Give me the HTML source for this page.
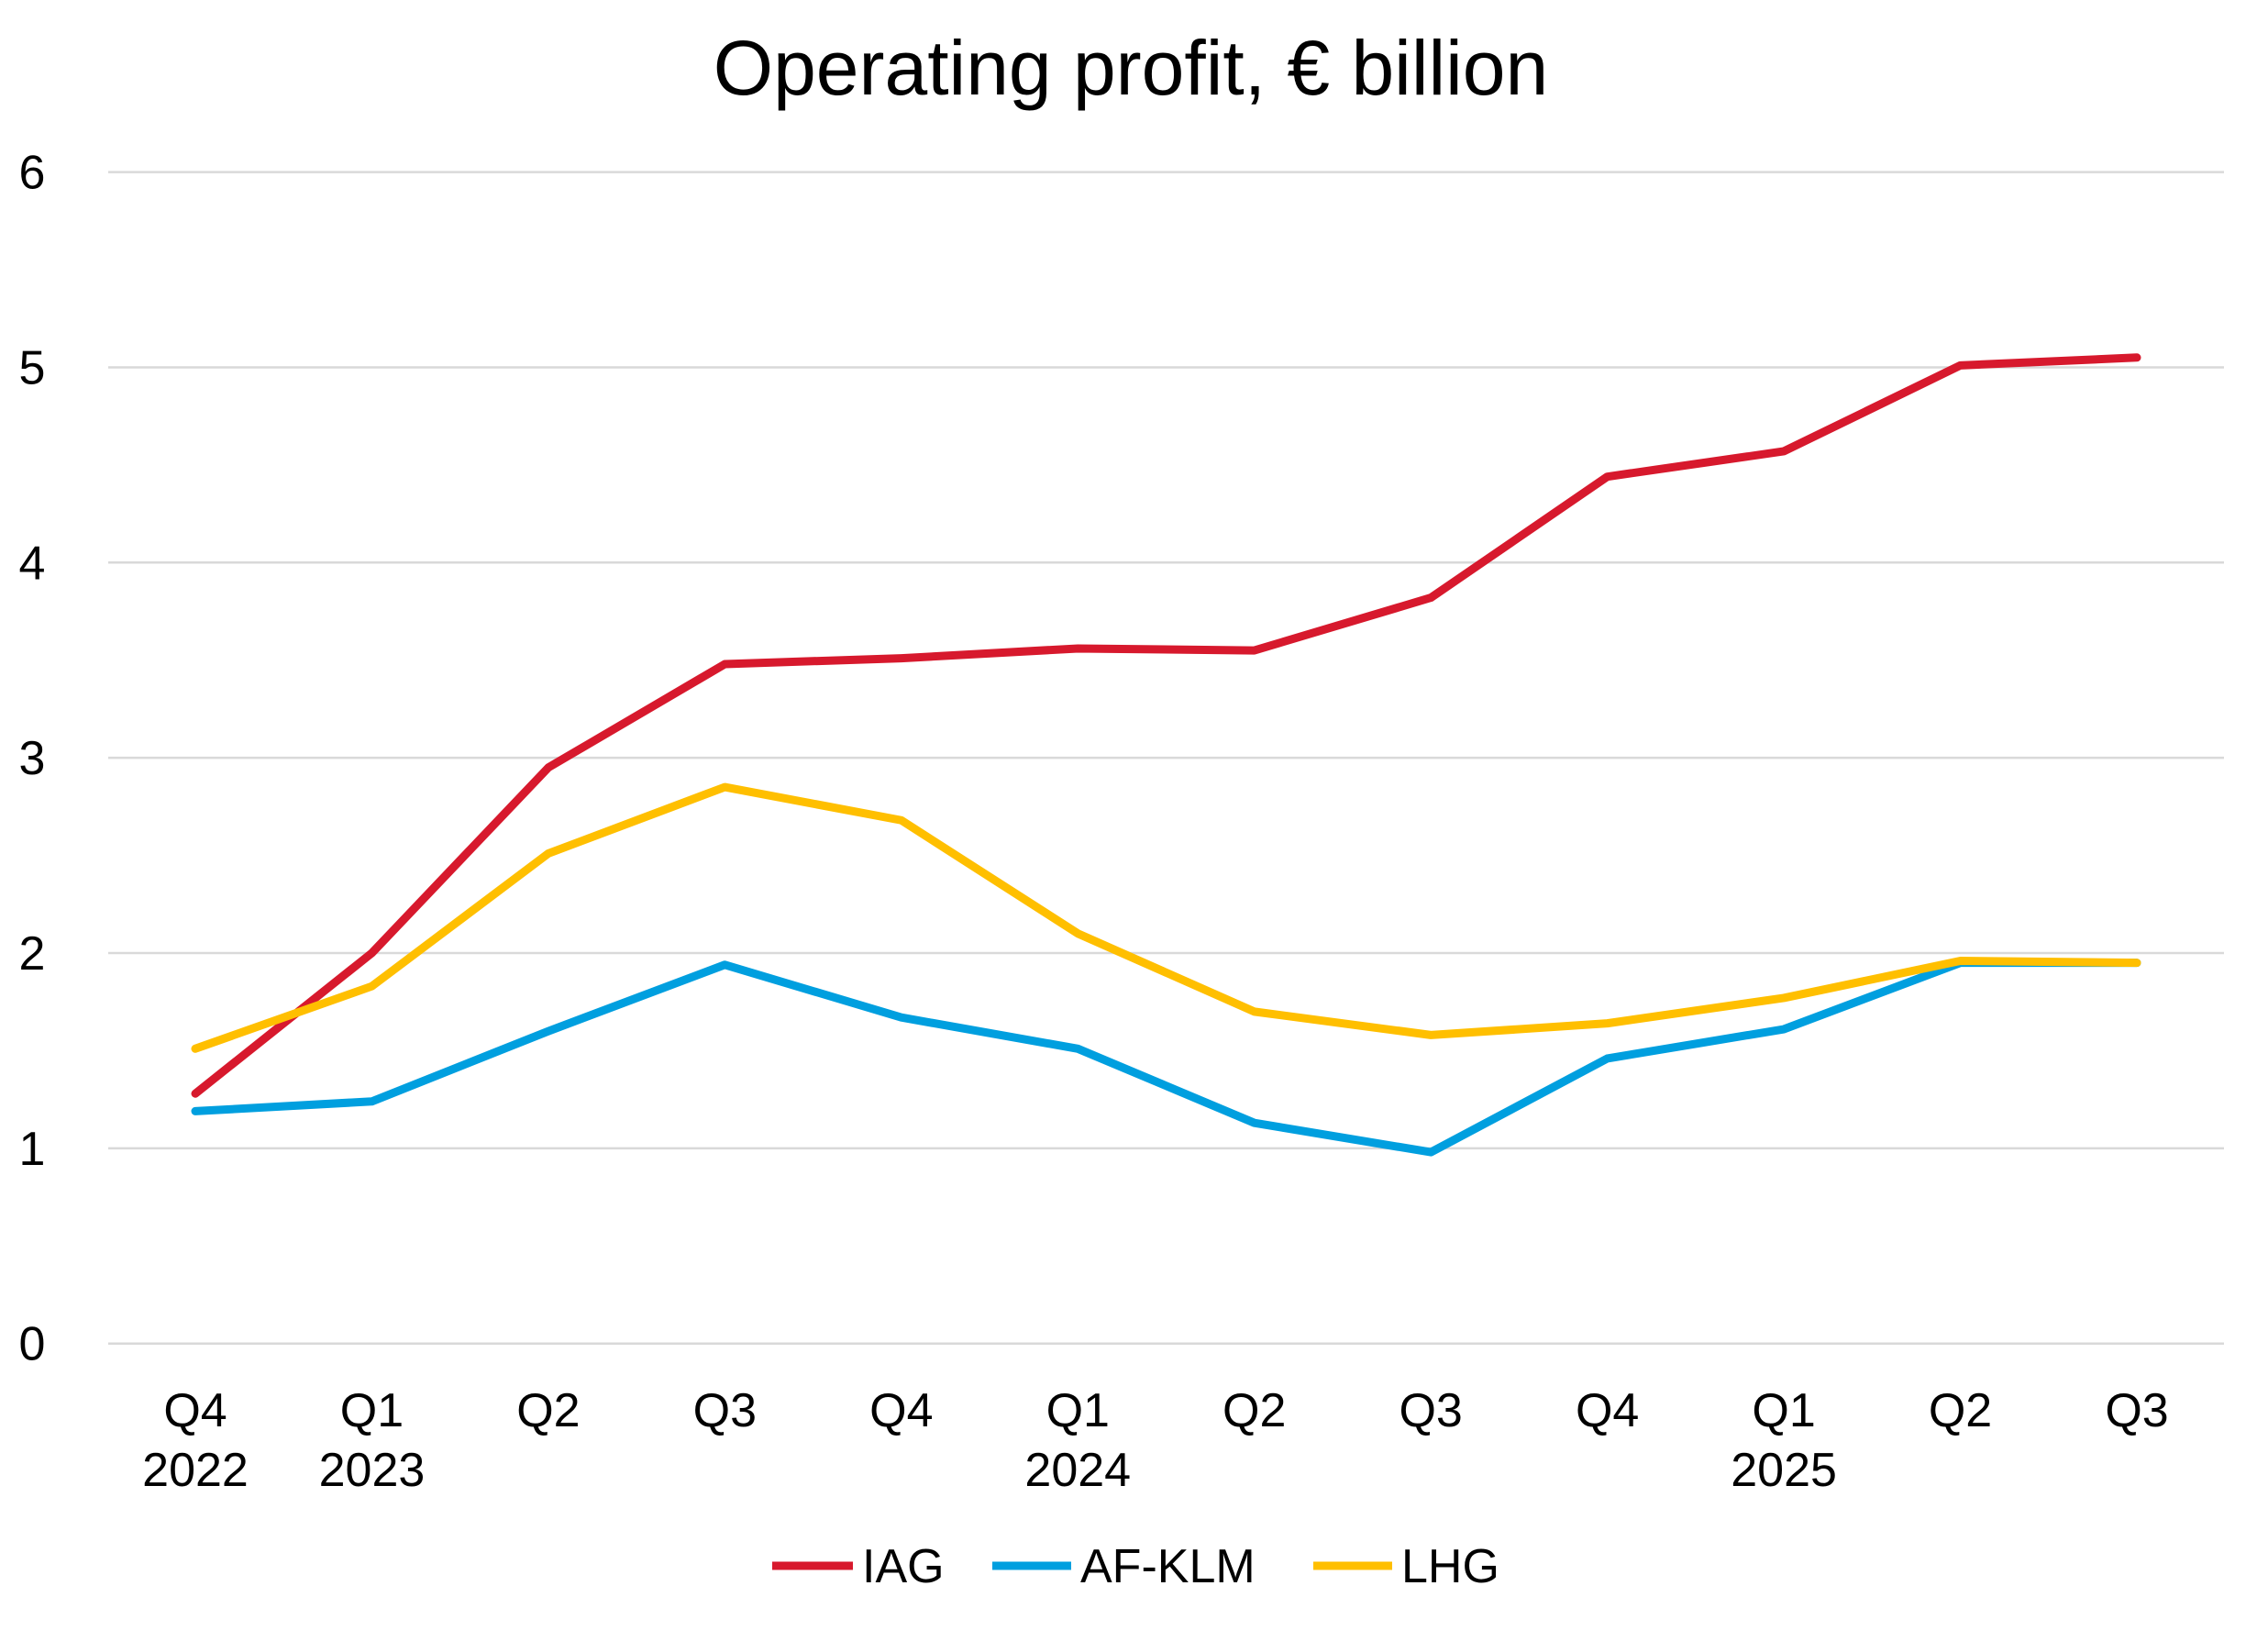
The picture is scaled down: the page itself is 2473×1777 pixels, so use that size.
<!DOCTYPE html>
<html><head><meta charset="utf-8"><style>
html,body{margin:0;padding:0;background:#fff;}
svg{display:block;font-family:"Liberation Sans",sans-serif;}
</style></head><body>
<svg id="chart" width="2473" height="1777" viewBox="0 0 2473 1777">
<text x="1233" y="103" text-anchor="middle" font-size="84" fill="#000">Operating profit, € billion</text>
<g id="grid"></g>
<g id="ylabels"></g>
<g id="xlabels"></g>
<g id="series"></g>
<g>
<g><line x1="842" y1="1707" x2="930" y2="1707" stroke="#d7192d" stroke-width="9"/><text x="940" y="1725" font-size="52">IAG</text></g>
<g><line x1="1082" y1="1707" x2="1168" y2="1707" stroke="#009fdf" stroke-width="9"/><text x="1178" y="1725" font-size="52">AF-KLM</text></g>
<g><line x1="1432" y1="1707" x2="1518" y2="1707" stroke="#ffbf00" stroke-width="9"/><text x="1528" y="1725" font-size="52">LHG</text></g>
</g>
</svg>
<script>
const quarters = ["Q4","Q1","Q2","Q3","Q4","Q1","Q2","Q3","Q4","Q1","Q2","Q3"];
const years = ["2022","2023","","","","2024","","","","2025","",""];
const iag = [1.28,2.0,2.95,3.48,3.51,3.56,3.55,3.82,4.44,4.57,5.01,5.05];
const afklm = [1.19,1.24,1.6,1.94,1.67,1.51,1.13,0.98,1.46,1.61,1.95,1.95];
const lhg = [1.51,1.83,2.51,2.85,2.68,2.1,1.7,1.58,1.64,1.77,1.96,1.95];
const yTicks = [0,1,2,3,4,5,6];
const NS="http://www.w3.org/2000/svg";
const x0=213,x1=2330,yb=1464.7,yt=187.6,ymax=6;
const xs=i=>x0+(x1-x0)*i/(quarters.length-1);
const ys=v=>yb-(yb-yt)*v/ymax;
function mk(tag,attrs,parent){const e=document.createElementNS(NS,tag);for(const k in attrs)e.setAttribute(k,attrs[k]);parent.appendChild(e);return e;}
const grid=document.getElementById('grid'),yl=document.getElementById('ylabels'),xl=document.getElementById('xlabels'),ser=document.getElementById('series');
yTicks.forEach(t=>{
  const l=mk('line',{x1:118,x2:2425,y1:ys(t),y2:ys(t),stroke:'#d9d9d9','stroke-width':2.5},grid);
  
  
  const tx=mk('text',{x:35,y:ys(t)+18,'text-anchor':'middle','font-size':52},yl);
  tx.textContent=t;
  
  
});
quarters.forEach((q,i)=>{
  const tx=mk('text',{x:xs(i),y:1555,'text-anchor':'middle','font-size':52},xl);
  tx.textContent=q;
  
  
  if(years[i]){
    const ty=mk('text',{x:xs(i),y:1620,'text-anchor':'middle','font-size':52},xl);
    ty.textContent=years[i];
    
    
  }
});
[[iag,'#d7192d','line-iag'],[afklm,'#009fdf','line-af-klm'],[lhg,'#ffbf00','line-lhg']].forEach(([d,c,n])=>{
  const p=mk('polyline',{points:d.map((v,i)=>xs(i)+','+ys(v)).join(' '),fill:'none',stroke:c,'stroke-width':9,'stroke-linejoin':'round','stroke-linecap':'round'},ser);
  
  
});
</script>
</body></html>
